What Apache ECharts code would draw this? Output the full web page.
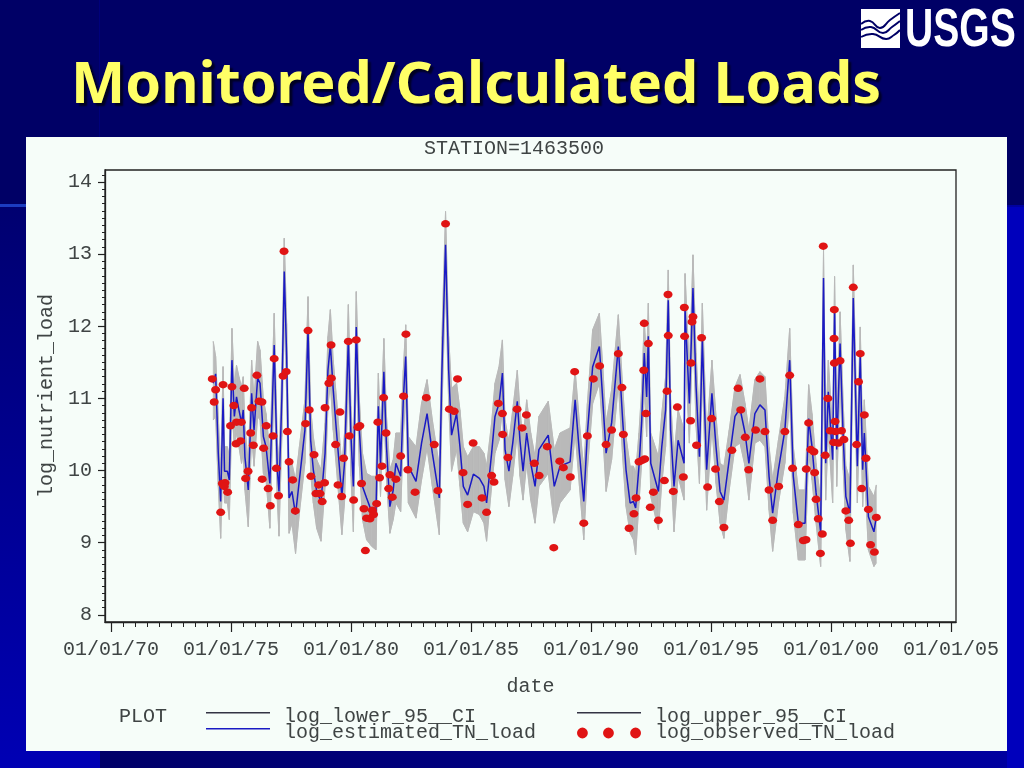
<!DOCTYPE html>
<html><head><meta charset="utf-8">
<style>
html,body{margin:0;padding:0;background:#000066;overflow:hidden}
#c{width:1024px;height:768px}
</style>
<script src="https://cdn.jsdelivr.net/npm/echarts@6/dist/echarts.min.js"></script>
</head><body><div id="c"></div>
<script>
const estDates=[1974.26,1974.36,1974.47,1974.57,1974.67,1974.73,1974.85,1974.93,1975.04,1975.14,1975.23,1975.33,1975.44,1975.51,1975.58,1975.72,1975.86,1975.96,1976.11,1976.21,1976.35,1976.46,1976.62,1976.80,1976.93,1977.00,1977.12,1977.22,1977.32,1977.42,1977.54,1977.69,1977.85,1978.08,1978.21,1978.32,1978.43,1978.57,1978.75,1978.92,1979.04,1979.14,1979.26,1979.40,1979.62,1979.73,1979.89,1980.00,1980.10,1980.22,1980.35,1980.48,1980.65,1980.86,1981.04,1981.14,1981.23,1981.37,1981.48,1981.62,1981.76,1981.87,1982.07,1982.18,1982.28,1982.39,1982.71,1982.94,1983.17,1983.39,1983.68,1983.79,1983.94,1984.07,1984.19,1984.40,1984.54,1984.68,1984.86,1985.10,1985.35,1985.54,1985.65,1985.86,1986.00,1986.17,1986.31,1986.42,1986.58,1986.74,1986.93,1987.04,1987.17,1987.32,1987.49,1987.67,1987.83,1988.22,1988.47,1988.71,1989.13,1989.34,1989.52,1989.70,1989.85,1990.07,1990.35,1990.49,1990.63,1990.86,1991.14,1991.32,1991.46,1991.63,1991.77,1991.86,1992.00,1992.11,1992.22,1992.32,1992.39,1992.49,1992.81,1992.95,1993.11,1993.22,1993.32,1993.46,1993.63,1993.88,1993.92,1994.10,1994.25,1994.38,1994.52,1994.64,1994.82,1995.04,1995.21,1995.38,1995.54,1995.76,1996.00,1996.21,1996.42,1996.58,1996.83,1997.04,1997.25,1997.42,1997.57,1997.81,1998.08,1998.28,1998.43,1998.64,1998.92,1999.07,1999.21,1999.38,1999.57,1999.69,1999.78,1999.89,2000.07,2000.15,2000.24,2000.38,2000.51,2000.62,2000.79,2000.93,2001.10,2001.22,2001.32,2001.39,2001.56,2001.79,2001.89];
const estValues=[11.21,11.34,10.24,9.57,11.00,9.99,9.99,9.87,11.53,10.75,11.02,10.84,10.66,10.84,10.19,9.73,11.07,10.56,11.28,11.21,10.47,10.33,9.82,11.74,10.01,9.71,11.02,12.76,11.58,9.62,9.71,9.39,9.87,10.56,11.95,10.42,10.01,9.71,9.57,10.24,11.39,11.74,11.12,10.52,9.64,10.10,11.83,10.47,9.78,11.99,10.56,9.78,9.62,9.43,9.43,10.89,10.10,11.37,10.33,9.50,9.73,10.10,9.92,10.98,11.58,10.06,9.85,10.38,10.79,10.24,9.62,11.39,13.13,11.39,10.49,10.79,10.33,9.78,9.66,9.95,9.89,9.78,9.55,10.24,10.75,10.93,11.35,10.29,9.99,10.38,10.96,10.42,9.99,10.52,10.10,9.78,10.29,10.49,9.78,10.06,10.12,10.98,10.24,9.57,10.52,11.44,11.72,10.98,10.24,10.66,11.72,10.70,10.01,9.55,9.57,9.48,10.06,10.66,11.63,11.02,11.86,10.10,9.71,10.33,10.84,12.36,10.56,9.78,10.42,10.10,12.23,10.93,12.53,11.16,10.19,11.81,10.01,11.07,10.33,9.71,9.59,10.15,10.75,10.86,10.52,10.10,10.79,10.91,10.84,9.92,9.41,10.01,10.56,11.53,9.92,9.27,9.27,10.72,10.33,9.69,9.15,12.67,10.10,11.09,10.15,12.25,10.29,11.76,10.47,9.64,9.41,12.39,10.06,11.60,10.01,10.52,9.36,9.15,9.36];
const upperValues=[11.79,11.58,10.75,9.99,11.44,10.33,10.33,10.19,11.97,11.16,11.46,11.30,11.16,11.30,10.61,10.10,11.53,10.98,11.79,11.67,10.98,10.79,10.24,12.18,10.42,10.10,11.44,13.22,12.04,10.01,10.10,9.87,10.33,10.98,12.41,10.86,10.47,10.15,10.01,10.66,11.86,12.23,11.53,10.98,10.06,10.52,12.30,10.89,10.24,12.48,10.98,10.24,9.96,9.92,9.92,11.35,10.52,11.83,10.75,10.01,10.15,10.52,10.52,11.39,12.02,10.47,10.33,10.93,11.26,10.70,10.06,11.86,13.59,11.86,11.14,11.21,10.84,10.33,10.19,10.33,10.33,10.24,10.06,10.66,11.21,11.44,11.81,10.70,10.40,10.84,11.39,10.84,10.42,10.98,10.52,10.19,10.75,10.96,10.29,10.52,10.59,11.39,10.66,10.01,10.93,11.95,12.18,11.44,10.66,11.12,12.16,11.16,10.47,10.06,10.06,9.96,10.52,11.12,12.09,11.49,12.32,10.52,10.19,10.79,11.30,12.78,10.98,10.19,10.84,10.56,12.73,11.39,12.99,11.63,10.66,12.32,10.47,11.53,10.75,10.10,10.06,10.56,11.16,11.33,10.93,10.56,11.26,11.37,11.30,10.33,9.87,10.42,11.02,11.97,10.33,9.73,9.73,11.19,10.79,10.10,9.59,13.06,10.56,11.53,10.56,12.69,10.70,12.20,10.93,10.06,9.87,12.85,10.52,11.99,10.47,10.98,9.78,9.64,9.80];
const lowerValues=[10.70,10.75,9.78,9.06,10.24,9.55,9.55,9.32,10.84,10.33,10.52,10.33,10.10,10.24,9.73,9.22,10.47,10.06,10.75,10.70,9.96,9.87,9.20,11.21,9.59,9.09,10.47,12.18,11.02,9.13,9.27,8.85,9.41,10.10,11.39,9.96,9.55,9.20,9.02,9.78,10.89,11.21,10.56,10.01,9.11,9.55,11.30,9.92,9.15,11.44,10.06,9.32,9.04,8.95,8.90,10.38,9.64,10.84,9.87,9.13,9.32,9.55,9.43,10.47,11.07,9.55,9.34,9.87,10.31,9.78,9.11,10.84,12.60,10.93,9.99,10.29,9.78,9.27,9.15,9.43,9.39,9.27,9.02,9.78,10.24,10.42,10.84,9.87,9.50,9.92,10.52,9.92,9.59,10.10,9.59,9.27,9.78,9.96,9.27,9.55,9.73,10.52,9.78,9.04,10.01,10.93,11.21,10.52,9.71,10.15,11.21,10.19,9.50,9.13,9.04,8.83,9.55,10.10,11.16,10.47,11.30,9.64,9.18,9.82,10.33,11.81,10.06,9.15,9.92,9.59,11.67,10.38,11.99,10.61,9.82,11.30,9.45,10.61,9.82,9.27,9.06,9.73,10.33,10.38,10.06,9.59,10.38,10.42,10.33,9.45,8.88,9.55,10.10,11.02,9.41,8.76,8.76,10.24,9.87,9.27,8.67,11.39,9.59,10.56,9.55,11.76,9.78,11.21,10.01,9.18,8.74,11.86,9.55,11.07,9.50,10.01,8.90,8.67,8.72];
const obsDates=[1974.22,1974.36,1974.30,1974.67,1974.57,1974.64,1974.75,1974.72,1974.86,1975.04,1975.12,1974.98,1975.23,1975.43,1975.21,1975.40,1975.55,1975.61,1975.71,1975.82,1975.86,1975.93,1976.08,1976.17,1976.29,1976.47,1976.36,1976.30,1976.55,1976.64,1976.75,1976.80,1976.89,1976.98,1977.17,1977.30,1977.21,1977.35,1977.42,1977.57,1977.68,1978.11,1978.26,1978.21,1978.33,1978.46,1978.54,1978.71,1978.65,1978.90,1978.80,1978.92,1979.08,1979.17,1979.18,1979.36,1979.54,1979.46,1979.61,1979.69,1979.89,1979.93,1980.11,1980.22,1980.29,1980.37,1980.44,1980.54,1980.60,1980.65,1980.79,1980.89,1980.94,1981.07,1981.12,1981.19,1981.29,1981.36,1981.46,1981.57,1981.62,1981.72,1981.87,1982.07,1982.19,1982.29,1982.37,1982.67,1983.14,1983.47,1983.62,1983.94,1984.10,1984.30,1984.44,1984.67,1984.86,1985.09,1985.46,1985.65,1985.86,1985.96,1986.14,1986.31,1986.32,1986.54,1986.92,1987.13,1987.31,1987.64,1987.84,1988.18,1988.45,1988.70,1988.85,1989.14,1989.32,1989.70,1989.85,1990.10,1990.36,1990.63,1990.86,1991.14,1991.29,1991.35,1991.59,1991.79,1991.88,1992.00,1992.13,1992.24,1992.20,1992.22,1992.29,1992.39,1992.47,1992.60,1992.81,1993.06,1993.17,1993.21,1993.22,1993.43,1993.60,1993.85,1993.89,1993.90,1994.15,1994.17,1994.21,1994.25,1994.40,1994.61,1994.86,1995.03,1995.19,1995.35,1995.54,1995.87,1996.13,1996.24,1996.43,1996.57,1996.86,1997.04,1997.25,1997.42,1997.57,1997.82,1998.08,1998.28,1998.40,1998.64,1998.85,1998.96,1998.97,1999.07,1999.16,1999.29,1999.32,1999.38,1999.47,1999.56,1999.64,1999.68,1999.76,1999.87,1999.97,2000.13,2000.14,2000.14,2000.17,2000.19,2000.11,2000.31,2000.38,2000.44,2000.54,2000.62,2000.74,2000.81,2000.93,2001.07,2001.15,2001.22,2001.28,2001.39,2001.46,2001.56,2001.65,2001.81,2001.89];
const obsValues=[11.27,11.12,10.95,11.19,9.42,9.82,9.83,9.78,9.70,11.16,10.90,10.62,10.67,10.67,10.37,10.41,11.14,9.89,9.99,10.52,10.87,10.35,11.32,10.96,10.95,10.62,10.31,9.88,9.75,9.51,10.48,11.55,10.03,9.65,11.31,11.37,13.04,10.54,10.12,9.87,9.44,10.65,10.84,11.94,9.92,10.22,9.68,9.68,9.80,9.83,9.57,10.87,11.21,11.74,11.28,10.36,10.81,9.80,9.64,10.17,11.79,10.48,9.59,11.81,10.60,10.62,9.82,9.47,8.89,9.34,9.33,9.45,9.39,9.54,10.67,9.90,10.06,11.01,10.52,9.75,9.94,9.63,9.88,10.20,11.03,11.89,10.01,9.70,11.01,10.36,9.72,13.42,10.85,10.82,11.27,9.97,9.53,10.38,9.62,9.42,9.93,9.84,10.93,10.79,10.50,10.18,10.85,10.59,10.77,10.10,9.93,10.33,8.93,10.13,10.04,9.91,11.37,9.27,10.48,11.27,11.45,10.36,10.56,11.62,11.15,10.50,9.20,9.40,9.62,10.12,10.14,10.16,11.39,12.04,10.79,11.76,9.49,9.70,9.31,9.86,11.10,12.44,11.87,9.71,10.88,9.91,12.26,11.86,10.69,11.49,12.06,12.13,10.35,11.84,9.77,10.72,10.02,9.57,9.21,10.28,11.14,10.84,10.46,10.01,10.56,11.27,10.54,9.73,9.31,9.78,10.54,11.32,10.03,9.25,9.03,9.04,10.02,10.66,10.29,10.26,9.97,9.60,9.33,8.85,9.12,13.11,10.21,11.00,10.55,11.83,12.23,11.49,10.68,10.54,10.39,10.38,11.52,10.55,10.43,9.44,9.31,8.99,12.54,10.36,11.23,11.62,9.75,10.77,10.17,9.46,8.97,8.87,9.35];
const xTicks=[1970,1975,1980,1985,1990,1995,2000,2005];
const yTicks=[8,9,10,11,12,13,14];
const titleText='Monitored/Calculated Loads';
const stationText='STATION=1463500';
const xName='date', yName='log_nutrient_load', plotWord='PLOT';
const nLower='log_lower_95__CI', nUpper='log_upper_95__CI', nEst='log_estimated_TN_load', nObs='log_observed_TN_load';

const PANEL='#f6fdf9', INK='#3f4444', GRAY='#b9b9b9', BLUE='#1a1ac4', RED='#e01414';
const FONT='"Liberation Mono"';
const FS=20;
const xMinor=[],yMinor=[];
for(let i=0;i<=70;i++)xMinor.push(1970+i/2);
for(let i=0;i<=61;i++)yMinor.push(8+i/10);
const zip=(a,b)=>a.map((v,i)=>[v,b[i]]);
const txt={fontFamily:FONT,fontSize:FS,color:INK};
const wave=p=>({type:'polyline',z:-9,shape:{points:p,smooth:0.5},style:{fill:'none',stroke:'#000066',lineWidth:2}});
const lineIcon=y=>`path://M0 0L0 0ZM64 12L64 12ZM0 ${y}H64V${y+1.4}H0Z`;
const bandItem=(params,api)=>{
  const i=params.dataIndex;
  if(i>=estDates.length-1)return null;
  return {type:'polygon',shape:{points:[
    api.coord([estDates[i],lowerValues[i]]),api.coord([estDates[i],upperValues[i]]),
    api.coord([estDates[i+1],upperValues[i+1]]),api.coord([estDates[i+1],lowerValues[i+1]])]},
    style:{fill:GRAY,stroke:GRAY,lineWidth:0.6}};
};

const chart=echarts.init(document.getElementById('c'),null,{width:1024,height:768});
chart.setOption({
 animation:false,
 backgroundColor:'#000066',
 textStyle:{fontFamily:FONT},
 title:[
  {text:titleText,left:71,top:58,padding:0,textStyle:{fontFamily:'"Noto Sans"',fontWeight:'bold',fontSize:57.5,color:'#ffff66',textShadowColor:'#000022',textShadowBlur:2,textShadowOffsetX:3,textShadowOffsetY:3}},
  {text:stationText,left:424,top:139,padding:0,textStyle:{...txt,fontWeight:'normal'}}
 ],
 graphic:{elements:[
  {type:'rect',z:-20,shape:{x:0,y:205,width:100,height:563},style:{fill:{type:'linear',x:0,y:0,x2:0,y2:1,colorStops:[{offset:0,color:'#000070'},{offset:1,color:'#0000b4'}]}}},
  {type:'rect',z:-20,shape:{x:100,y:205,width:924,height:563},style:{fill:{type:'linear',x:0,y:0,x2:1,y2:0,colorStops:[{offset:0,color:'#000068'},{offset:1,color:'#0000a0'}]}}},
  {type:'rect',z:-19,shape:{x:1007,y:207,width:17,height:561},style:{fill:'#0000bc'}},
  {type:'rect',z:-19,shape:{x:0,y:204,width:26,height:3},style:{fill:'#1c3cc0'}},
  {type:'rect',z:-19,shape:{x:99,y:0,width:1,height:137},style:{fill:'#00007a'}},
  {type:'rect',z:-18,shape:{x:26,y:137,width:981,height:614},style:{fill:PANEL}},
  {type:'rect',z:-10,shape:{x:861,y:9,width:39,height:39},style:{fill:'#ffffff'}},
  wave([[861,24],[870,21],[880,28],[890,20],[900,13]]),
  wave([[861,30],[871,27],[883,33],[892,27],[900,21]]),
  wave([[861,37],[873,34],[886,39],[894,35],[900,30]]),
  {type:'text',z:-9,x:905,y:5,scaleX:0.85,scaleY:1.16,style:{text:'USGS',fill:'#ffffff',font:'bold 46px "Liberation Sans"'}},
  {type:'text',z:5,x:119,y:707,style:{text:plotWord,fill:INK,font:FS+'px '+FONT}}
 ]},
 grid:{left:105,top:170,width:851,height:452,show:true,backgroundColor:'transparent',borderColor:'#222',borderWidth:1.3},
 xAxis:[
  {type:'value',min:1969.75,max:2005.21,position:'bottom',splitLine:{show:false},
   name:xName,nameLocation:'middle',nameGap:55,nameTextStyle:{...txt},
   axisLine:{show:true,lineStyle:{color:'#222',width:1.3}},
   axisTick:{show:true,length:10,customValues:xTicks,lineStyle:{color:'#222',width:1.2}},
   axisLabel:{show:true,customValues:xTicks,margin:18,...txt,formatter:v=>'01/01/'+String(Math.round(v)%100).padStart(2,'0')}},
  {type:'value',min:1969.75,max:2005.21,position:'bottom',splitLine:{show:false},
   axisLine:{show:false},axisTick:{show:true,length:5,customValues:xMinor,lineStyle:{color:'#222',width:1}},axisLabel:{show:false}}
 ],
 yAxis:[
  {type:'value',min:7.9,max:14.166,position:'left',splitLine:{show:false},
   name:yName,nameLocation:'middle',nameRotate:90,nameGap:41,nameTextStyle:{...txt},
   axisLine:{show:true,lineStyle:{color:'#222',width:1.3}},
   axisTick:{show:true,length:7,customValues:yTicks,lineStyle:{color:'#222',width:1.2}},
   axisLabel:{show:true,customValues:yTicks,margin:13,...txt}},
  {type:'value',min:7.9,max:14.166,position:'left',splitLine:{show:false},
   axisLine:{show:false},axisTick:{show:true,length:3,customValues:yMinor,lineStyle:{color:'#222',width:1}},axisLabel:{show:false}}
 ],
 legend:[
  {left:206,top:707,padding:0,orient:'vertical',itemWidth:64,itemHeight:12,itemGap:-4,selectedMode:false,
   textStyle:{...txt,padding:[0,0,0,9]},
   data:[{name:nLower,icon:lineIcon(1),itemStyle:{color:'#334',opacity:1}},{name:nEst,icon:lineIcon(1),itemStyle:{color:BLUE,opacity:1}}]},
  {left:577,top:707,padding:0,orient:'vertical',itemWidth:64,itemHeight:12,itemGap:-4,selectedMode:false,
   textStyle:{...txt,padding:[0,0,0,9]},
   data:[{name:nUpper,icon:lineIcon(1),itemStyle:{color:'#334',opacity:1}},
         {name:nObs,icon:'path://M2 6a5 5 0 1 0 10 0a5 5 0 1 0-10 0ZM26 6a5 5 0 1 0 10 0a5 5 0 1 0-10 0ZM51 6a5 5 0 1 0 10 0a5 5 0 1 0-10 0Z',itemStyle:{color:RED}}]}
 ],
 series:[
  {name:'band',type:'custom',renderItem:bandItem,data:estDates.map((d,i)=>[d,lowerValues[i],upperValues[i]]),encode:{x:0,y:[1,2]},z:2,silent:true},
  {name:nLower,type:'line',data:zip(estDates,lowerValues),showSymbol:false,symbol:'none',z:3,
   lineStyle:{color:GRAY,width:1},itemStyle:{color:GRAY}},
  {name:nUpper,type:'line',data:zip(estDates,upperValues),showSymbol:false,symbol:'none',z:3,
   lineStyle:{color:GRAY,width:1},itemStyle:{color:GRAY}},
  {name:nEst,type:'line',data:zip(estDates,estValues),showSymbol:false,symbol:'none',z:4,
   lineStyle:{color:BLUE,width:1.5},itemStyle:{color:BLUE}},
  {name:nObs,type:'scatter',data:zip(obsDates,obsValues),symbol:'circle',symbolSize:[9,7.5],z:5,itemStyle:{color:RED,opacity:1}}
 ]
});
</script></body></html>
